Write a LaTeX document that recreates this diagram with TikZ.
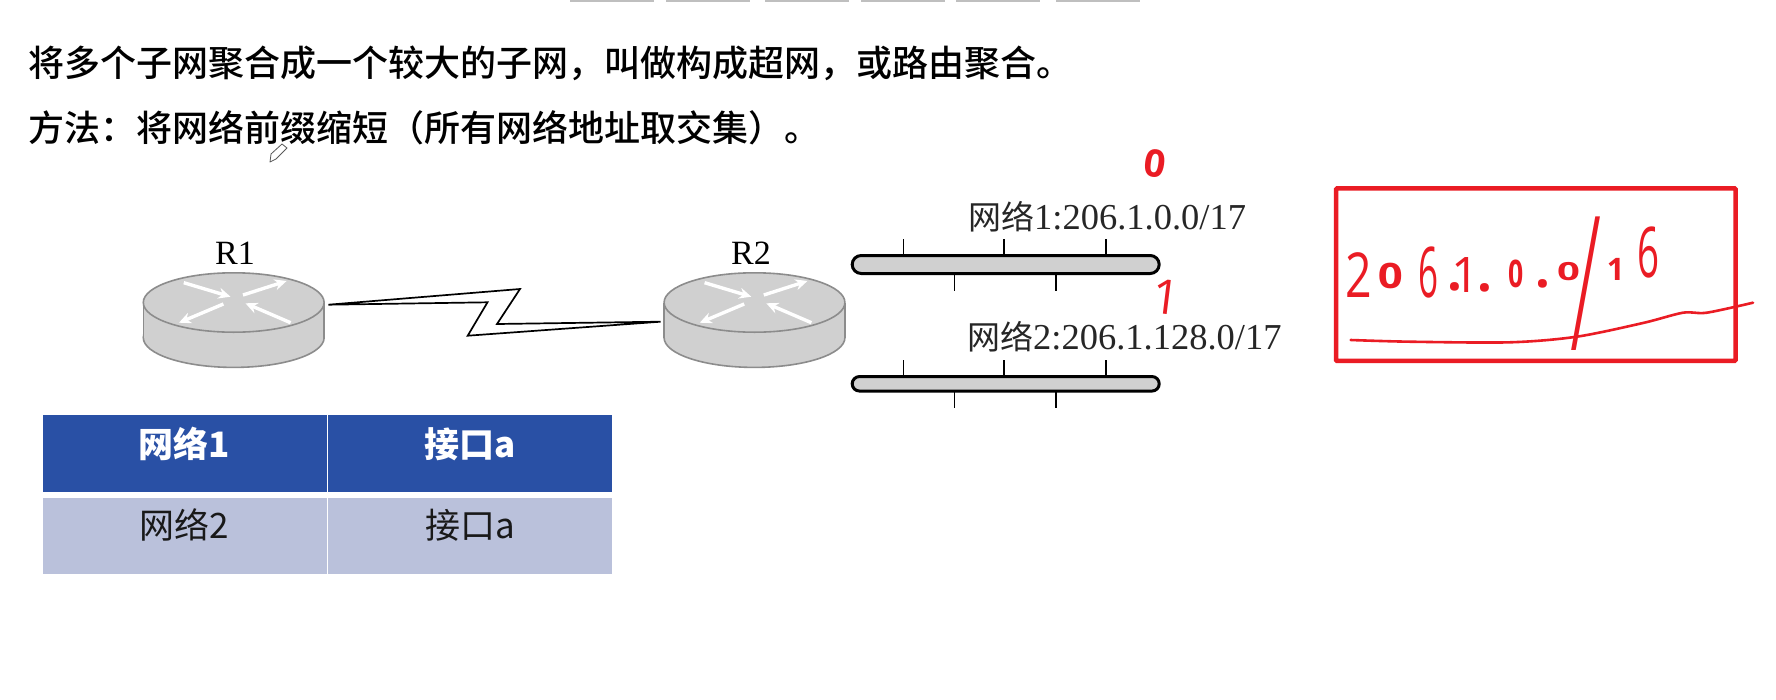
\documentclass[tikz,border=0pt]{standalone}
\usepackage{fontspec}
\usepackage{graphicx}
\usetikzlibrary{arrows.meta,shapes.misc,calc}
\setmainfont{Liberation Serif}
\newfontfamily\cjk{Noto Sans CJK SC}
\newfontfamily\cjkm{Noto Sans CJK SC Medium}
\newfontfamily\hand{Open Sans}
\newfontfamily\handthin{Open Sans Light}
\definecolor{hred}{HTML}{EA1C24}
\definecolor{rgray}{HTML}{D0D0D0}
\definecolor{redge}{HTML}{8C8C8C}
\definecolor{thead}{HTML}{2950A5}
\definecolor{tbody}{HTML}{BAC1DB}
\newcommand{\fs}[1]{\fontsize{#1}{#1}\selectfont}
\newcommand{\hd}[4]{\raisebox{#3pt}{\scalebox{#2}[1]{\fs{#1}#4}}}
\tikzset{
  headline/.style={anchor=base west,inner sep=0pt,text=black,font=\cjkm\fs{36}},
  netlabel/.style={anchor=base west,inner sep=0pt,text=black!85},
  rlabel/.style={anchor=base,inner sep=0pt,text=black,font=\fs{34}},
  bus/.style={draw=black,line width=3pt,fill=rgray,rounded rectangle,inner sep=0pt},
  tickline/.style={draw=black,line width=1.5pt},
  cellH/.style={fill=thead,inner sep=0pt,minimum width=283.5pt,minimum height=76.7pt},
  cellB/.style={fill=tbody,inner sep=0pt,minimum width=283.5pt,minimum height=76.3pt},
  thtext/.style={inner sep=0pt,text=white,font=\cjk\bfseries\fs{35}},
  tdtext/.style={inner sep=0pt,text=black!90,font=\cjk\fs{35}},
  redbox/.style={draw=hred,line width=4.5pt,rounded corners=1pt,inner sep=0pt,minimum width=399.5pt,minimum height=172.5pt},
  redink/.style={draw=hred,line width=2.6pt,line cap=round,line join=round},
  handtext/.style={inner sep=0pt,text=hred},
  rarrow/.style={draw=white,line width=3.4pt,-{Stealth[length=12pt,width=11pt]}},
  rhole/.style={inner sep=0pt,minimum width=181pt,minimum height=95pt},
  routerpic/.pic={
    \fill[rgray,draw=redge,line width=1.6pt] (0,35.2) ellipse [x radius=90.4,y radius=29.7];
    \fill[rgray] (-90.4,0) rectangle (90.4,35.2);
    \draw[redge,line width=1.6pt] (-90.4,0) -- (-90.4,35.2) (90.4,0) -- (90.4,35.2);
    \fill[rgray,draw=redge,line width=1.6pt] (0,0) ellipse [x radius=90.4,y radius=29.7];
    \draw[rarrow] (-49.9,-19.8) -- (-3.2,-5.8);
    \draw[rarrow] (9.3,-7.5) -- (52.9,-21.5);
    \draw[rarrow] (-10.3,1.5) -- (-54.7,20.2);
    \draw[rarrow] (56.9,20.2) -- (11.8,0.8);
  }
}
\begin{document}
\begin{tikzpicture}[x=1pt,y=-1pt]
\useasboundingbox (0,0) rectangle (1776,699);
\fill[white] (0,0) rectangle (1776,699);
% tab strip at the top edge
\foreach \a/\b in {570/654,666/750,765/849,861/945,956/1040,1056/1140}
  \fill[black!25] (\a,0) rectangle (\b,2);
% heading
\node[headline] (h1) at (28,76) {将多个子网聚合成一个较大的子网，叫做构成超网，或路由聚合。};
\node[headline] (h2) at (28,141) {方法：将网络前缀缩短（所有网络地址取交集）。};
% pencil cursor
\draw[black!65,fill=white,line width=0.8pt,line join=round] (270,162) -- (271,154) -- (282,144) -- (287,148) -- (276,159) -- cycle;
% routers
\pic at (233.7,302.5) {routerpic};
\pic at (754.5,302.5) {routerpic};
\node[rhole] (r1) at (233.7,320) {};
\node[rhole] (r2) at (754.5,320) {};
\node[rlabel] (r1t) at (235,264) {R1};
\node[rlabel] (r2t) at (751,264) {R2};
% serial link
\coordinate (p1) at ($(r1.east)+(4,-15.3)$);
\coordinate (p2) at ($(r2.west)+(-3.3,1.7)$);
\draw[black,line width=1.7pt,line join=miter] (p1) -- (520,289) -- (497,324) -- (p2) -- (467.7,335.7) -- (487.5,302.3) -- cycle;
% networks
\node[netlabel] (n1) at (968,229) {{\cjk\fs{33}网络}{\fs{36.5}1:206.1.0.0/17}};
\node[netlabel] (n2) at (967,349) {{\cjk\fs{33}网络}{\fs{36.5}2:206.1.128.0/17}};
\foreach \x in {903.7,1004,1106} {
  \draw[tickline] (\x,239) -- (\x,258);
  \draw[tickline] (\x,360) -- (\x,380);
}
\foreach \x in {954.3,1056} {
  \draw[tickline] (\x,270) -- (\x,291);
  \draw[tickline] (\x,388) -- (\x,408);
}
\node[bus,minimum width=307pt,minimum height=18pt] (b1) at (1005.7,264.5) {};
\node[bus,minimum width=307pt,minimum height=14.5pt] (b2) at (1005.7,383.8) {};
% table
\node[cellH] (c11) at (184.75,453.35) {};
\node[cellH] (c12) at (470,453.35) {};
\node[cellB] (c21) at (184.75,535.85) {};
\node[cellB] (c22) at (470,535.85) {};
\node[thtext] (t11) at (184.5,444) {网络1};
\node[thtext] (t12) at (470,444) {接口a};
\node[tdtext] (t21) at (184.5,525) {网络2};
\node[tdtext] (t22) at (470,525) {接口a};
% handwriting
\node[handtext,font=\hand\bfseries\fs{38},rotate=-8] (bit0) at (1155,164) {0};
\node[handtext,font=\hand\fs{48},rotate=-7] (bit1) at (1166,297) {1};
\node[redbox] (sum) at (1535.8,274.7) {};
\node[handtext,anchor=base west,font=\hand] (addr) at (1345,297)
 {\hd{62}{.75}{0}{2}\kern6pt
  {\bfseries\hd{35}{1.25}{9}{0}}\kern16pt
  \hd{70}{.5}{0}{6}\kern8.4pt
  {\bfseries\hd{52}{1}{7}{.}}\kern-10.8pt
  \hd{49}{1}{5}{1}\kern-2pt
  {\bfseries\hd{52}{1}{6}{.}}\kern16pt
  {\bfseries\hd{38}{.7}{10}{0}}\kern12pt
  {\bfseries\hd{52}{1}{10}{.}}\kern7pt
  {\bfseries\hd{25}{1.6}{17}{0}}\kern-9pt
  \raisebox{-53pt}{\handthin\fs{52}\scalebox{1.75}[3.6]{/}}\kern5pt
  {\bfseries\hd{31}{1}{17}{1}}\kern13pt
  \hd{70}{.55}{20}{6}};
\draw[redink] plot[smooth,tension=0.5] coordinates {(1350.7,340) (1410,341.7) (1510,342.3) (1576.7,336.7) (1643,323) (1683,312.7) (1706.7,312.7) (1753,302.7)};
\end{tikzpicture}
\end{document}
